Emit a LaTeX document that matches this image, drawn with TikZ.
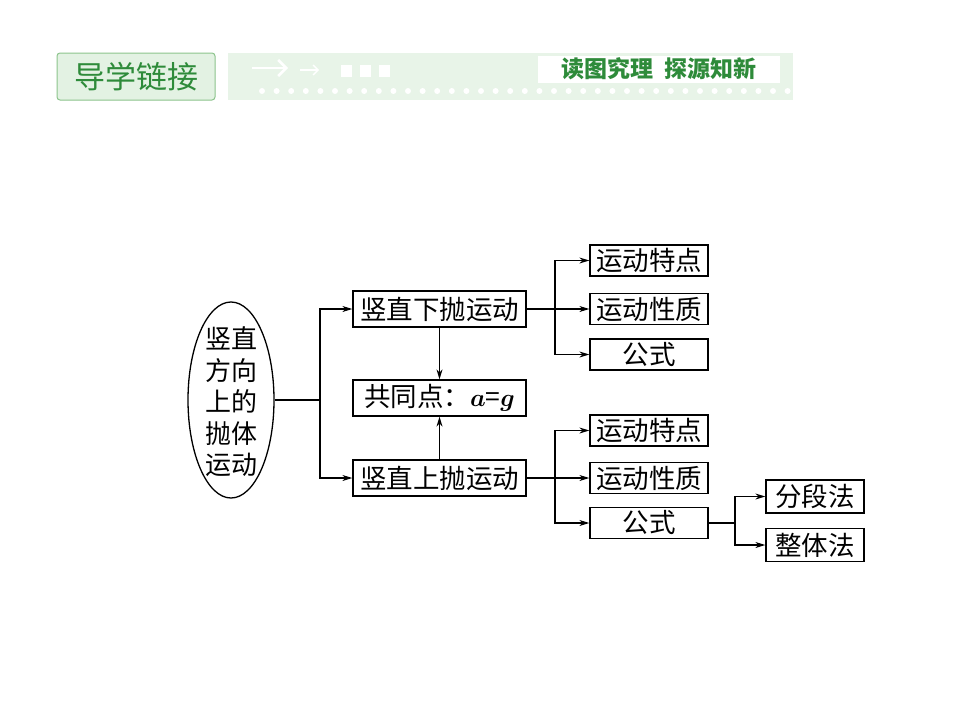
\documentclass[tikz,border=0pt]{standalone}
\usepackage{amsmath}
\usepackage{bm}
\usepackage{fontspec}
\newfontfamily\cjk{Noto Sans CJK SC}
\usetikzlibrary{arrows.meta,shapes.geometric}
\definecolor{hdrfill}{HTML}{E3F2E3}
\definecolor{hdrline}{HTML}{8CC48C}
\definecolor{hdrtext}{HTML}{2E8B3A}
\definecolor{bandfill}{HTML}{E8F4E8}
\tikzset{
  box/.style={draw=black, line width=1.3pt, rectangle, inner sep=0pt, font=\cjk\fontsize{26.5}{26.5}\selectfont},
  bigbox/.style={box, minimum width=173pt, minimum height=36pt},
  smallbox/.style={box, minimum width=118pt, minimum height=31pt},
  tinybox/.style={box, minimum width=98pt, minimum height=33pt},
  conn/.style={line width=1.1pt, draw=black},
  arr/.style={conn, -{Stealth[length=10pt,width=6pt]}}
}
\begin{document}
\begin{tikzpicture}[x=1pt,y=-1pt]
\useasboundingbox (0,0) rectangle (960,720);
\fill[white] (0,0) rectangle (960,720);
% header
\node[draw=hdrline, fill=hdrfill, rounded corners=3pt, line width=1pt, minimum width=158pt, minimum height=47pt, inner sep=0pt, text=hdrtext, font=\cjk\fontsize{31}{31}\selectfont] (hdr) at (136,76.5) {导学链接};
\fill[bandfill] (228,53) rectangle (793,100);
\node[fill=white, minimum width=242pt, minimum height=27pt, inner sep=0pt, text=hdrtext, font=\cjk\bfseries\fontsize{23}{23}\selectfont] (tag) at (659,69) {读图究理\hspace{0.5em}探源知新};
\draw[white, line width=2.5pt, -{Straight Barb[length=8pt,width=16pt]}] (252,68) -- (288,68);
\draw[white, line width=1.4pt, -{Straight Barb[length=5pt,width=10pt]}] (300,70) -- (319,70);
\fill[white] (341,65) rectangle (352,77);
\fill[white] (360,65) rectangle (371,77);
\fill[white] (379,65) rectangle (390,77);
\foreach \i in {0,...,36} { \fill[white] (262+\i*14.6,91) circle (3pt); }
% diagram
\node[draw, ellipse, line width=1.3pt, minimum width=86pt, minimum height=196pt, inner sep=0pt] (ell) at (231,400) {};
\node[align=center, font=\cjk\fontsize{26}{31.5}\selectfont, inner sep=0pt] (elltext) at (231,402) {竖直\\方向\\上的\\抛体\\运动};
\node[bigbox] (down) at (439.5,309) {竖直下抛运动};
\node[bigbox] (common) at (439.5,398) {共同点：$\bm{a}$=$\bm{g}$};
\node[bigbox] (up) at (439.5,478) {竖直上抛运动};
\node[smallbox] (r1) at (649,260.5) {运动特点};
\node[smallbox] (r2) at (649,309) {运动性质};
\node[smallbox] (r3) at (649,354.5) {公式};
\node[smallbox] (r4) at (649,430.5) {运动特点};
\node[smallbox] (r5) at (649,478) {运动性质};
\node[smallbox] (r6) at (649,523) {公式};
\node[tinybox] (f1) at (815,496.5) {分段法};
\node[tinybox] (f2) at (815,545) {整体法};
\coordinate (j1) at (320,400);
\coordinate (j2) at (555,309);
\coordinate (j3) at (555,478);
\coordinate (j4) at (735,523);
\draw[conn] (ell.east) -- (j1);
\draw[arr] (j1) |- (down.west);
\draw[arr] (j1) |- (up.west);
\draw[arr] (down.south) -- (common.north);
\draw[arr] (up.north) -- (common.south);
\draw[conn] (down.east) -- (j2);
\draw[arr] (j2) |- (r1.west);
\draw[arr] (j2) -- (r2.west);
\draw[arr] (j2) |- (r3.west);
\draw[conn] (up.east) -- (j3);
\draw[arr] (j3) |- (r4.west);
\draw[arr] (j3) -- (r5.west);
\draw[arr] (j3) |- (r6.west);
\draw[conn] (r6.east) -- (j4);
\draw[arr] (j4) |- (f1.west);
\draw[arr] (j4) |- (f2.west);
\end{tikzpicture}
\end{document}
